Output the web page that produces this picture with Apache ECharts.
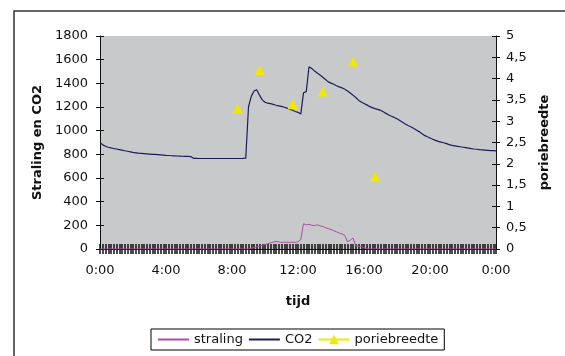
<!DOCTYPE html>
<html>
<head>
<meta charset="utf-8">
<script src="https://cdn.jsdelivr.net/npm/echarts@6/dist/echarts.min.js"></script>
<style>
  html, body { margin: 0; padding: 0; background: #fff; }
  #chart { width: 565px; height: 356px; }
</style>
</head>
<body>
<div id="chart"></div>
<script>
// measurements every 10 minutes, 0:00 .. 24:00
let co2 = [
    900, 880, 868, 860, 854, 849,
    845, 840, 835, 830, 826, 821,
    816, 813, 810, 808, 806, 804,
    802, 800, 799, 797, 795, 793,
    791, 790, 788, 787, 786, 785,
    784, 783, 782, 781, 766, 766,
    765, 765, 765, 765, 765, 765,
    765, 765, 765, 765, 765, 765,
    765, 765, 765, 765, 766, 768,
    1200, 1290, 1335, 1345, 1300, 1260,
    1240, 1232, 1228, 1222, 1215, 1210,
    1205, 1198, 1190, 1182, 1172, 1162,
    1155, 1140, 1320, 1330, 1540, 1525,
    1505, 1488, 1471, 1452, 1432, 1412,
    1402, 1392, 1380, 1370, 1362, 1350,
    1335, 1318, 1300, 1280, 1258, 1242,
    1230, 1218, 1205, 1195, 1186, 1180,
    1172, 1160, 1146, 1133, 1122, 1112,
    1100, 1086, 1071, 1057, 1044, 1033,
    1020, 1006, 992, 976, 960, 948,
    938, 928, 918, 910, 903, 898,
    890, 882, 876, 872, 868, 864,
    860, 856, 852, 848, 845, 843,
    840, 838, 836, 834, 832, 831,
    830
];
let straling = [
    0, 0, 0, 0, 0, 0,
    0, 0, 0, 0, 0, 0,
    0, 0, 0, 0, 0, 0,
    0, 0, 0, 0, 0, 0,
    0, 0, 0, 0, 0, 0,
    0, 0, 0, 0, 0, 0,
    0, 0, 0, 0, 0, 0,
    0, 0, 0, 0, 0, 0,
    0, 0, 0, 0, 0, 0,
    0, 5, 12, 17, 25, 30,
    38, 45, 52, 58, 64, 60,
    55, 58, 57, 56, 58, 56,
    62, 80, 213, 205, 208, 200,
    198, 205, 195, 190, 180, 172,
    165, 155, 145, 135, 128, 115,
    60, 75, 93, 28, 22, 20,
    12, 2, 0, 0, 0, 0,
    0, 0, 0, 0, 0, 0,
    0, 0, 0, 0, 0, 0,
    0, 0, 0, 0, 0, 0,
    0, 0, 0, 0, 0, 0,
    0, 0, 0, 0, 0, 0,
    0, 0, 0, 0, 0, 0,
    0, 0, 0, 0, 0, 0,
    0
];
let poreTimes = ['8:20', '9:40', '11:40', '13:30', '15:20', '16:40'];
let poreValues = [3.3, 4.2, 3.4, 3.7, 4.4, 1.7];

// category labels (time of day)
let times = [];
for (let i = 0; i < co2.length; i++) {
    let h = Math.floor(i / 6) % 24;
    let m = (i % 6) * 10;
    times.push(h + ':' + (m < 10 ? '0' + m : m));
}
let pore = times.map((t, i) => {
    let k = poreTimes.indexOf(t);
    return (k >= 0 && i < 144) ? poreValues[k] : null;
});

const FONT = 'DejaVu Sans';
const AXISCOL = '#111';

let elem = document.getElementById('chart');
let chart = echarts.init(elem);

// second axes that only draw the inner half of the crossing ticks
let tickOnly = (idx, pos) => ({
    type: 'value', position: pos, min: 0,
    max: idx === 0 ? 1800 : 5, interval: idx === 0 ? 200 : 0.5,
    axisLine: { show: false },
    axisTick: { show: true, inside: true, length: 4, lineStyle: { color: AXISCOL } },
    axisLabel: { show: false },
    splitLine: { show: false }
});

chart.setOption({
    animation: false,
    textStyle: { fontFamily: FONT },
    graphic: [{
        type: 'rect',
        shape: { x: 14, y: 11, width: 700, height: 500 },
        style: { fill: 'none', stroke: '#333', lineWidth: 1.5 },
        silent: true
    }],
    grid: {
        left: 100, right: 69, top: 36, bottom: 107,
        show: true, backgroundColor: '#c8c9cb', borderWidth: 0
    },
    legend: {
        left: 151, top: 329,
        padding: [4, 6],
        itemWidth: 31, itemHeight: 12, itemGap: 5,
        borderColor: '#000', borderWidth: 1, borderRadius: 0,
        backgroundColor: '#fff',
        textStyle: { fontFamily: FONT, fontSize: 13, color: '#111' },
        data: [
            { name: 'straling', itemStyle: { opacity: 0 } },
            { name: 'CO2', itemStyle: { opacity: 0 } },
            'poriebreedte'
        ]
    },
    xAxis: [{
        type: 'category', data: times, boundaryGap: false,
        name: 'tijd', nameLocation: 'middle', nameGap: 46,
        nameTextStyle: { fontFamily: FONT, fontSize: 13, fontWeight: 'bold', color: '#111' },
        axisLine: { lineStyle: { color: AXISCOL } },
        axisTick: { interval: 0, length: 5, lineStyle: { color: AXISCOL, width: 1.5 } },
        axisLabel: {
            interval: 23, margin: 15, fontFamily: FONT, fontSize: 13, color: '#111'
        }
    }, {
        type: 'category', data: times, boundaryGap: false, position: 'bottom',
        axisLine: { show: false },
        axisTick: { interval: 0, inside: true, length: 5, lineStyle: { color: AXISCOL, width: 1.5 } },
        axisLabel: { show: false }
    }],
    yAxis: [{
        type: 'value', position: 'left', min: 0, max: 1800, interval: 200,
        name: 'Straling en CO2', nameLocation: 'middle', nameGap: 46, nameRotate: 90,
        nameTextStyle: { fontFamily: FONT, fontSize: 13, fontWeight: 'bold', color: '#111' },
        axisLine: { show: true, lineStyle: { color: AXISCOL } },
        axisTick: { show: true, length: 4, lineStyle: { color: AXISCOL } },
        axisLabel: {
            margin: 12, fontFamily: FONT, fontSize: 13, color: '#111',
            formatter: v => String(v)
        },
        splitLine: { show: false }
    }, {
        type: 'value', position: 'right', min: 0, max: 5, interval: 0.5,
        name: 'poriebreedte', nameLocation: 'middle', nameGap: 42, nameRotate: 90,
        nameTextStyle: { fontFamily: FONT, fontSize: 13, fontWeight: 'bold', color: '#111' },
        axisLine: { show: true, lineStyle: { color: AXISCOL } },
        axisTick: { show: true, length: 4, lineStyle: { color: AXISCOL } },
        axisLabel: {
            margin: 10, fontFamily: FONT, fontSize: 13, color: '#111',
            formatter: v => String(v).replace('.', ',')
        },
        splitLine: { show: false }
    },
    tickOnly(0, 'left'),
    tickOnly(1, 'right')
    ],
    series: [{
        name: 'straling', type: 'line', data: straling,
        yAxisIndex: 0, symbol: 'none',
        lineStyle: { color: '#b04aa8', width: 1 },
        itemStyle: { color: '#b04aa8' }
    }, {
        name: 'CO2', type: 'line', data: co2,
        yAxisIndex: 0, symbol: 'none',
        lineStyle: { color: '#1c1c5c', width: 1.2 },
        itemStyle: { color: '#1c1c5c' }
    }, {
        name: 'poriebreedte', type: 'line', data: pore,
        yAxisIndex: 1, symbol: 'triangle', symbolSize: 10,
        showSymbol: true, showAllSymbol: true, connectNulls: false,
        lineStyle: { color: '#f0e800', width: 1 },
        itemStyle: { color: '#f0e800' }
    }]
});

window.addEventListener('resize', function() {
    setTimeout(() => {
        chart.resize();
    }, 500);
});
</script>
</body>
</html>
